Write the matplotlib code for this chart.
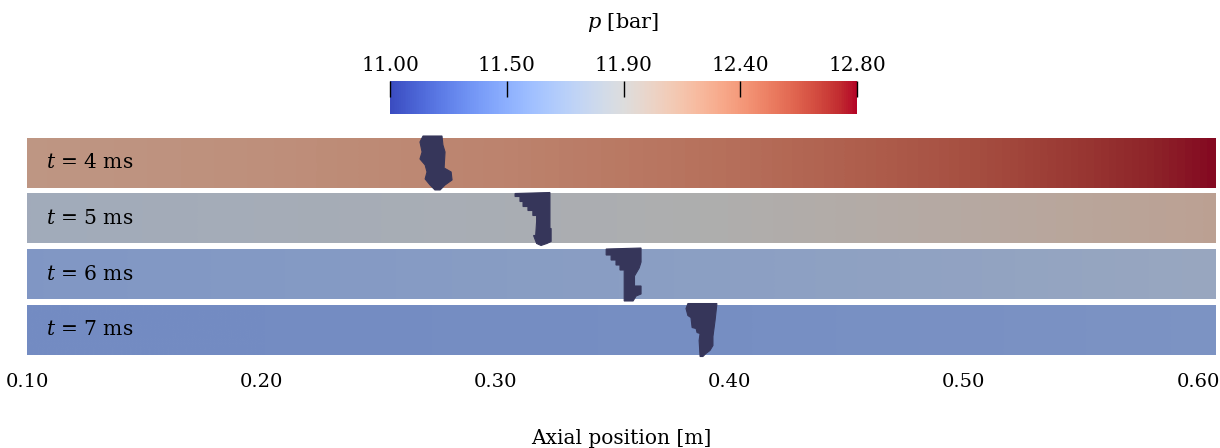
import numpy as np
import matplotlib
matplotlib.use("Agg")
import matplotlib.pyplot as plt
from matplotlib.colors import ListedColormap, Normalize
from matplotlib.patches import Polygon

plt.rcParams['font.family'] = ['DejaVu Serif']
plt.rcParams['mathtext.fontset'] = 'dejavuserif'

# pressure along the pipe for each snapshot [bar], sampled at evenly spaced stations
axial_pos = [0.1000, 0.2015, 0.3031, 0.4046, 0.5062, 0.6077]
times = ["4", "5", "6", "7"]
p_t4 = [12.17, 12.22, 12.30, 12.42, 12.58, 12.80]
p_t5 = [11.78, 11.81, 11.85, 11.91, 11.99, 12.08]
p_t6 = [11.54, 11.56, 11.59, 11.62, 11.66, 11.71]
p_t7 = [11.45, 11.45, 11.46, 11.47, 11.49, 11.51]
pressures = [p_t4, p_t5, p_t6, p_t7]

# bubble front position [m] and outline (axial offset [mm], fraction of strip height)
bubble_front = [0.2785, 0.3216, 0.3622, 0.3942]
bubble_dx = [
    [-9.4, -10.7, -9.8, -10.7, -8.5, -7.7, -8.5, -6.4, -4.3, -2.1, 0, 3.0, 2.6, -0.4, 0, -0.9, -1.3],
    [-13.2, -13.2, -11.1, -11.1, -9.8, -9.8, -7.7, -7.7, -5.6, -5.6, -4.0, -4.0, -4.4, -5.3, -4.0, -2.1, 0.4, 2.2, 2.2, 1.7, 1.7],
    [-14.9, -14.9, -12.8, -12.8, -10.7, -10.7, -9.0, -9.0, -7.2, -7.2, -3.4, -2.1, 0, 0, -2.8, -2.8, -0.8, 0, 0],
    [-12.0, -12.8, -12.0, -10.7, -10.2, -8.5, -8.1, -6.8, -7.2, -6.8, -5.6, -4.3, -2.6, -1.3, -1.3, -0.4, 0.4],
]
bubble_fy = [
    [-0.04, 0.08, 0.28, 0.42, 0.54, 0.68, 0.82, 0.94, 1.04, 1.04, 0.94, 0.84, 0.68, 0.60, 0.28, 0.14, -0.04],
    [0, 0.06, 0.06, 0.16, 0.16, 0.26, 0.26, 0.34, 0.34, 0.44, 0.44, 0.56, 0.84, 0.84, 1.0, 1.04, 1.0, 0.96, 0.70, 0.70, -0.02],
    [0, 0.12, 0.12, 0.22, 0.22, 0.32, 0.32, 0.42, 0.42, 1.04, 1.04, 0.94, 0.90, 0.74, 0.74, 0.54, 0.38, 0.26, -0.02],
    [-0.02, 0.08, 0.22, 0.26, 0.46, 0.48, 0.56, 0.58, 0.72, 1.04, 1.04, 0.98, 0.92, 0.82, 0.64, 0.32, -0.02],
]

p_min, p_max = 11.0, 12.8
cbar_ticks = [11.0, 11.45, 11.9, 12.35, 12.8]
cbar_labels = ["11.00", "11.50", "11.90", "12.40", "12.80"]
x_ticks = [0.10, 0.20, 0.30, 0.40, 0.50, 0.60]

W, H = 1220, 448
fig = plt.figure(figsize=(W / 100, H / 100), dpi=100)

norm = Normalize(p_min, p_max)
base = plt.get_cmap('coolwarm')
# the rendered strips are darker/duller than the legend (scene lighting)
shade = base(np.linspace(0, 1, 256))
rgb = shade[:, :3] * 0.79
grey = rgb.mean(axis=1, keepdims=True)
shade[:, :3] = 0.88 * rgb + 0.12 * grey
shaded = ListedColormap(shade)

ax = fig.add_axes([27 / W, 1 - 354.5 / H, (1216 - 27) / W, 216.5 / H])
h = 0.9
half = (axial_pos[1] - axial_pos[0]) / 2
for i, p in enumerate(pressures):
    ax.imshow(np.array([p]), cmap=shaded, norm=norm, interpolation='bilinear',
              aspect='auto', extent=[axial_pos[0] - half, axial_pos[-1] + half, i + h, i])
    ax.text(0.1 + 0.008, i + h / 2, f"$t$ = {times[i]} ms", fontsize=14.5,
            va='center', ha='left')
    xs = bubble_front[i] + np.array(bubble_dx[i]) / 1000
    ys = i + np.array(bubble_fy[i]) * h
    ax.add_patch(Polygon(np.column_stack([xs, ys]), closed=True, fc='#36365a',
                         ec='#36365a', lw=0.8, clip_on=False, zorder=3))

ax.set_xlim(0.10, 0.6077)
ax.set_ylim(3.9, 0)
for s in ax.spines.values():
    s.set_visible(False)
ax.set_yticks([])
ax.set_xticks(x_ticks)
ax.set_xticklabels([f"{v:.2f}" for v in x_ticks])
ax.tick_params(axis='x', length=0, pad=13, labelsize=14)
ax.set_xlabel("Axial position [m]", fontsize=14.5, labelpad=28)

cax = fig.add_axes([390 / W, 1 - 114 / H, 467 / W, 33 / H])
sm = plt.cm.ScalarMappable(norm=norm, cmap=base)
cb = fig.colorbar(sm, cax=cax, orientation='horizontal')
cb.outline.set_visible(False)
cb.set_ticks(cbar_ticks)
cb.set_ticklabels(cbar_labels)
cax.xaxis.set_ticks_position('top')
cax.tick_params(axis='x', direction='in', length=11.5, width=1.0, color='black',
                pad=4, labelsize=14.5)
fig.text(623 / W, 1 - 22 / H, "$p$ [bar]", ha='center', va='center', fontsize=15)

fig.savefig("out.png", dpi=100)
